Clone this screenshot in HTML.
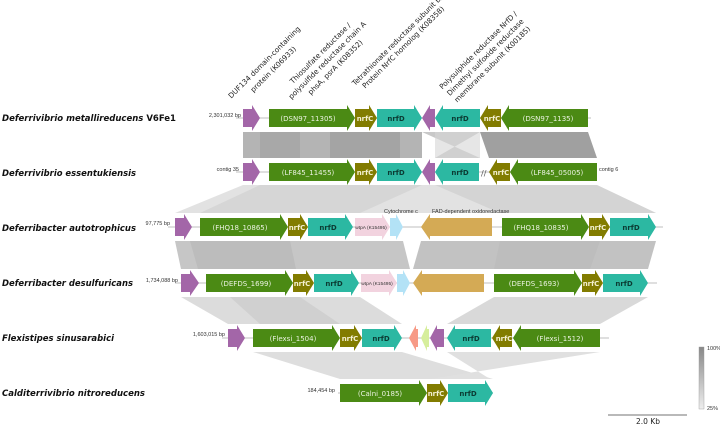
<!DOCTYPE html>
<html><head><meta charset="utf-8"><style>
html,body{margin:0;padding:0;background:#fff}
svg{display:block}
.sp{font-family:"DejaVu Sans",sans-serif;font-weight:bold;font-style:italic;font-size:8.6px;fill:#111}
.g{font-family:"DejaVu Sans",sans-serif;font-size:7px;fill:#eaf2e0;text-anchor:middle}
.c{font-family:"DejaVu Sans",sans-serif;font-size:7px;fill:#f4f0d0;font-weight:bold;text-anchor:middle}
.d{font-family:"DejaVu Sans",sans-serif;font-size:7px;fill:#0b3b33;font-weight:bold;text-anchor:middle}
.s{font-family:"Liberation Sans",sans-serif;font-size:5.5px;fill:#333}
.t{font-family:"DejaVu Sans",sans-serif;font-size:7.2px;fill:#222;text-anchor:middle}
</style></head><body>
<svg width="720" height="425" viewBox="0 0 720 425" xmlns="http://www.w3.org/2000/svg">
<defs>
<linearGradient id="lg" x1="0" y1="0" x2="0" y2="1"><stop offset="0" stop-color="#888"/><stop offset="1" stop-color="#eee"/></linearGradient>
</defs>
<!-- bands 1-2 -->
<polygon points="243,132 422,132 422,158 243,158" fill="#b4b4b4"/>
<polygon points="260,132 300,132 300,158 260,158" fill="#a8a8a8"/>
<polygon points="330,132 400,132 400,158 330,158" fill="#a4a4a4"/>
<polygon points="422,132 480,158 435,158 480,132" fill="#c8c8c8"/>
<polygon points="435,132 480,132 480,158 435,158" fill="#d6d6d6" opacity="0.6"/>
<polygon points="480,132 588,132 597,158 489,158" fill="#a0a0a0"/>
<!-- bands 2-3 -->
<polygon points="243,185 597,185 656,213 175,213" fill="#e2e2e2"/>
<polygon points="260,185 422,185 360,213 200,213" fill="#d6d6d6"/>
<polygon points="435,185 597,185 656,213 500,213" fill="#d4d4d4"/>
<!-- bands 3-4 -->
<polygon points="175,241 403,241 410,269 181,269" fill="#c6c6c6"/>
<polygon points="421,241 656,241 648,269 413,269" fill="#c2c2c2"/>
<polygon points="190,241 290,241 296,269 198,269" fill="#bcbcbc"/>
<polygon points="500,241 600,241 590,269 494,269" fill="#bdbdbd"/>
<!-- bands 4-5 -->
<polygon points="181,297 360,297 402,324 228,324" fill="#dcdcdc"/>
<polygon points="494,297 648,297 600,324 447,324" fill="#d9d9d9"/>
<polygon points="230,297 300,297 340,324 260,324" fill="#d0d0d0"/>
<!-- bands 5-6 -->
<polygon points="253,352 402,352 493,379 340,379" fill="#dedede"/>
<polygon points="447,352 600,352 430,379 490,379" fill="#e0e0e0"/>

<!-- baselines -->
<g stroke="#aaa" stroke-width="0.8">
<line x1="236" y1="118" x2="591" y2="118"/>
<line x1="236" y1="172" x2="597" y2="172"/>
<line x1="168" y1="227" x2="663" y2="227"/>
<line x1="175" y1="283" x2="657" y2="283"/>
<line x1="222" y1="338" x2="609" y2="338"/>
<line x1="338" y1="393" x2="493" y2="393"/>
</g>

<!-- species names -->
<text class="sp" x="2" y="121" textLength="174" lengthAdjust="spacingAndGlyphs">Deferrivibrio metallireducens <tspan font-style="normal">V6Fe1</tspan></text>
<text class="sp" x="2" y="176" textLength="134" lengthAdjust="spacingAndGlyphs">Deferrivibrio essentukiensis</text>
<text class="sp" x="2" y="231" textLength="134" lengthAdjust="spacingAndGlyphs">Deferribacter autotrophicus</text>
<text class="sp" x="2" y="286" textLength="131" lengthAdjust="spacingAndGlyphs">Deferribacter desulfuricans</text>
<text class="sp" x="2" y="341" textLength="112" lengthAdjust="spacingAndGlyphs">Flexistipes sinusarabici</text>
<text class="sp" x="2" y="396" textLength="143" lengthAdjust="spacingAndGlyphs">Calditerrivibrio nitroreducens</text>

<!-- coordinates -->
<text class="s" x="241" y="117" text-anchor="end">2,301,032 bp</text>
<text class="s" x="239" y="171" text-anchor="end">contig 35</text>
<text class="s" x="599" y="171">contig 6</text>
<text class="s" x="170" y="225" text-anchor="end">97,775 bp</text>
<text class="s" x="178" y="282" text-anchor="end">1,734,088 bp</text>
<text class="s" x="225" y="336" text-anchor="end">1,603,015 bp</text>
<text class="s" x="335" y="392" text-anchor="end">184,454 bp</text>

<!-- Row 1 y=118 -->
<polygon fill="#a366a8" points="243,109 252,109 252,105 260,118 252,131 252,127 243,127"/>
<polygon fill="#4b8a14" points="269,109 347,109 347,105 355,118 347,131 347,127 269,127"/><text class="g" x="308" y="121">(DSN97_11305)</text>
<polygon fill="#827c00" points="355,109 369,109 369,105 377,118 369,131 369,127 355,127"/><text class="c" x="365" y="121">nrfC</text>
<polygon fill="#2cb8a2" points="377,109 414,109 414,105 422,118 414,131 414,127 377,127"/><text class="d" x="396" y="121">nrfD</text>
<polygon fill="#a366a8" points="422,118 430,105 430,109 435,109 435,127 430,127 430,131"/>
<polygon fill="#2cb8a2" points="435,118 443,105 443,109 480,109 480,127 443,127 443,131"/><text class="d" x="460" y="121">nrfD</text>
<polygon fill="#827c00" points="480,118 488,105 488,109 501,109 501,127 488,127 488,131"/><text class="c" x="492" y="121">nrfC</text>
<polygon fill="#4b8a14" points="501,118 509,105 509,109 588,109 588,127 509,127 509,131"/><text class="g" x="548" y="121">(DSN97_1135)</text>

<!-- Row 2 y=172 -->
<polygon fill="#a366a8" points="243,163 252,163 252,159 260,172 252,185 252,181 243,181"/>
<polygon fill="#4b8a14" points="269,163 347,163 347,159 355,172 347,185 347,181 269,181"/><text class="g" x="308" y="175">(LF845_11455)</text>
<polygon fill="#827c00" points="355,163 369,163 369,159 377,172 369,185 369,181 355,181"/><text class="c" x="365" y="175">nrfC</text>
<polygon fill="#2cb8a2" points="377,163 414,163 414,159 422,172 414,185 414,181 377,181"/><text class="d" x="396" y="175">nrfD</text>
<polygon fill="#a366a8" points="422,172 430,159 430,163 435,163 435,181 430,181 430,185"/>
<polygon fill="#2cb8a2" points="435,172 443,159 443,163 479,163 479,181 443,181 443,185"/><text class="d" x="460" y="175">nrfD</text>
<text x="481" y="176" font-family="DejaVu Sans" font-size="8" fill="#555">//</text>
<polygon fill="#827c00" points="489,172 497,159 497,163 510,163 510,181 497,181 497,185"/><text class="c" x="501" y="175">nrfC</text>
<polygon fill="#4b8a14" points="510,172 518,159 518,163 597,163 597,181 518,181 518,185"/><text class="g" x="557" y="175">(LF845_05005)</text>

<!-- Row 3 y=227 -->
<polygon fill="#a366a8" points="175,218 184,218 184,214 192,227 184,240 184,236 175,236"/>
<polygon fill="#4b8a14" points="200,218 280,218 280,214 288,227 280,240 280,236 200,236"/><text class="g" x="240" y="230">(FHQ18_10865)</text>
<polygon fill="#827c00" points="288,218 300,218 300,214 308,227 300,240 300,236 288,236"/><text class="c" x="297" y="230">nrfC</text>
<polygon fill="#2cb8a2" points="308,218 345,218 345,214 353,227 345,240 345,236 308,236"/><text class="d" x="328" y="230">nrfD</text>
<polygon fill="#f2d3df" points="355,218 382,218 382,214 390,227 382,240 382,236 355,236"/><text x="371" y="229" font-family="Liberation Sans" font-size="4.8" fill="#333" text-anchor="middle">wtpA (K15495)</text>
<polygon fill="#b3e2f6" points="390,218 396,218 396,214 403,227 396,240 396,236 390,236"/>
<polygon fill="#d4aa55" points="421,227 430,214 430,218 492,218 492,236 430,236 430,240"/>
<polygon fill="#4b8a14" points="502,218 581,218 581,214 589,227 581,240 581,236 502,236"/><text class="g" x="541" y="230">(FHQ18_10835)</text>
<polygon fill="#827c00" points="589,218 602,218 602,214 610,227 602,240 602,236 589,236"/><text class="c" x="598" y="230">nrfC</text>
<polygon fill="#2cb8a2" points="610,218 648,218 648,214 656,227 648,240 648,236 610,236"/><text class="d" x="631" y="230">nrfD</text>
<text class="s" x="384" y="213">Cytochrome c</text>
<text class="s" x="432" y="213">FAD-dependent oxidoredactase</text>

<!-- Row 4 y=283 -->
<polygon fill="#a366a8" points="181,274 190,274 190,270 199,283 190,296 190,292 181,292"/>
<polygon fill="#4b8a14" points="206,274 285,274 285,270 293,283 285,296 285,292 206,292"/><text class="g" x="246" y="286">(DEFDS_1699)</text>
<polygon fill="#827c00" points="293,274 306,274 306,270 314,283 306,296 306,292 293,292"/><text class="c" x="302" y="286">nrfC</text>
<polygon fill="#2cb8a2" points="314,274 351,274 351,270 359,283 351,296 351,292 314,292"/><text class="d" x="334" y="286">nrfD</text>
<polygon fill="#f2d3df" points="361,274 389,274 389,270 397,283 389,296 389,292 361,292"/><text x="377" y="285" font-family="Liberation Sans" font-size="4.8" fill="#333" text-anchor="middle">wtpA (K15495)</text>
<polygon fill="#b3e2f6" points="397,274 403,274 403,270 410,283 403,296 403,292 397,292"/>
<polygon fill="#d4aa55" points="413,283 422,270 422,274 484,274 484,292 422,292 422,296"/>
<polygon fill="#4b8a14" points="494,274 574,274 574,270 582,283 574,296 574,292 494,292"/><text class="g" x="534" y="286">(DEFDS_1693)</text>
<polygon fill="#827c00" points="582,274 595,274 595,270 603,283 595,296 595,292 582,292"/><text class="c" x="591" y="286">nrfC</text>
<polygon fill="#2cb8a2" points="603,274 640,274 640,270 648,283 640,296 640,292 603,292"/><text class="d" x="624" y="286">nrfD</text>

<!-- Row 5 y=338 -->
<polygon fill="#a366a8" points="228,329 237,329 237,325 245,338 237,351 237,347 228,347"/>
<polygon fill="#4b8a14" points="253,329 332,329 332,325 340,338 332,351 332,347 253,347"/><text class="g" x="293" y="341">(Flexsi_1504)</text>
<polygon fill="#827c00" points="340,329 354,329 354,325 362,338 354,351 354,347 340,347"/><text class="c" x="350" y="341">nrfC</text>
<polygon fill="#2cb8a2" points="362,329 394,329 394,325 402,338 394,351 394,347 362,347"/><text class="d" x="381" y="341">nrfD</text>
<polygon fill="#f79a86" points="409,338 416,325 416,329 418,329 418,347 416,347 416,351"/>
<polygon fill="#d6ee9c" points="421,338 427,325 427,329 429,329 429,347 427,347 427,351"/>
<polygon fill="#a366a8" points="430,338 437,325 437,329 444,329 444,347 437,347 437,351"/>
<polygon fill="#2cb8a2" points="447,338 455,325 455,329 491,329 491,347 455,347 455,351"/><text class="d" x="471" y="341">nrfD</text>
<polygon fill="#827c00" points="492,338 500,325 500,329 512,329 512,347 500,347 500,351"/><text class="c" x="504" y="341">nrfC</text>
<polygon fill="#4b8a14" points="513,338 521,325 521,329 600,329 600,347 521,347 521,351"/><text class="g" x="560" y="341">(Flexsi_1512)</text>

<!-- Row 6 y=393 -->
<polygon fill="#4b8a14" points="340,384 419,384 419,380 427,393 419,406 419,402 340,402"/><text class="g" x="380" y="396">(Calni_0185)</text>
<polygon fill="#827c00" points="427,384 440,384 440,380 448,393 440,406 440,402 427,402"/><text class="c" x="436" y="396">nrfC</text>
<polygon fill="#2cb8a2" points="448,384 485,384 485,380 493,393 485,406 485,402 448,402"/><text class="d" x="468" y="396">nrfD</text>

<!-- rotated labels -->
<g class="t">
<text class="t" transform="translate(266,64) rotate(-45)">DUF134 domain-containing</text>
<text class="t" transform="translate(275,71) rotate(-45)">protein (K06933)</text>
<text class="t" transform="translate(322,55) rotate(-45)">Thiosulfate reductase /</text>
<text class="t" transform="translate(329,62) rotate(-45)">polysulfide reductase chain A</text>
<text class="t" transform="translate(337,69) rotate(-45)">phsA, psrA (K08352)</text>
<text class="t" transform="translate(399,42) rotate(-45)">Tetrathionate reductase subunit B/</text>
<text class="t" transform="translate(405,49) rotate(-45)">Protein NrfC homolog (K08358)</text>
<text class="t" transform="translate(480,52) rotate(-45)">Polysulphide reductase NrfD /</text>
<text class="t" transform="translate(487,59) rotate(-45)">Dimethyl sulfoxide reductase</text>
<text class="t" transform="translate(494,66) rotate(-45)">membrane subunit (K00185)</text>
</g>

<!-- legend -->
<rect x="699" y="347" width="5" height="62" fill="url(#lg)" stroke="#999" stroke-width="0.4"/>
<text class="s" x="707" y="350" font-size="5">100%</text>
<text class="s" x="707" y="410" font-size="5">25%</text>
<line x1="608" y1="415" x2="687" y2="415" stroke="#444" stroke-width="0.8"/>
<text x="648" y="424" font-family="DejaVu Sans" font-size="7.5" fill="#222" text-anchor="middle">2.0 Kb</text>
</svg>
</body></html>
